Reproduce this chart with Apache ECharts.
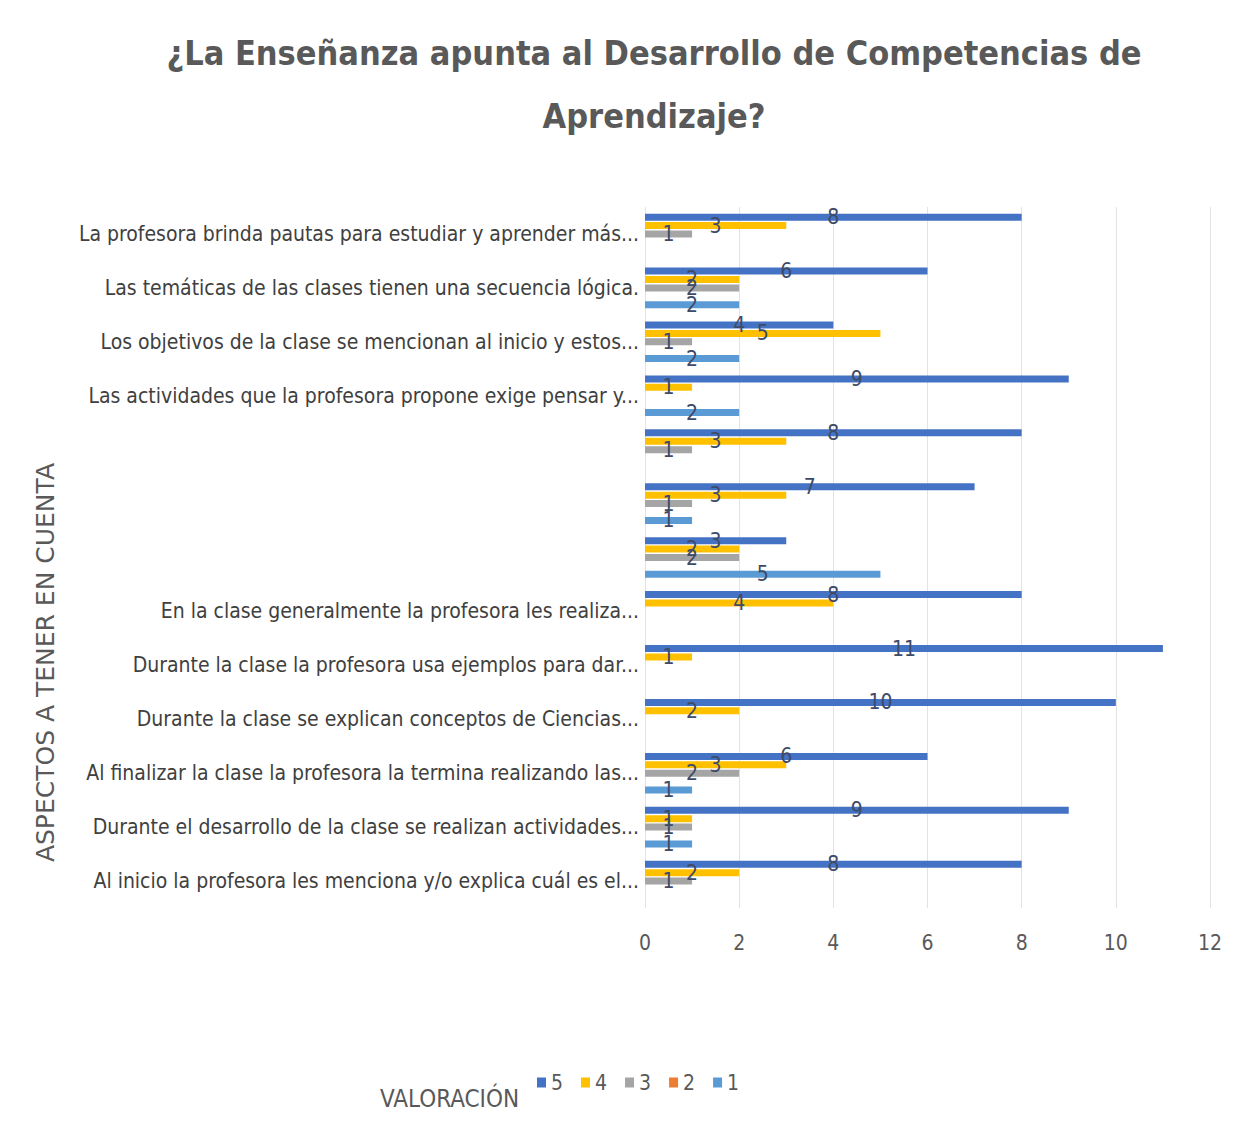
<!DOCTYPE html>
<html>
<head>
<meta charset="utf-8">
<script src="https://cdn.jsdelivr.net/npm/echarts@6/dist/echarts.min.js"></script>
<style>
html,body{margin:0;padding:0;background:#fff;}
#chart{width:1249px;height:1127px;}
</style>
</head>
<body>
<div id="chart"></div>
<script>
// Categories, top to bottom as shown
var categories = [
  "La profesora brinda pautas para estudiar y aprender más...",
  "Las temáticas de las clases tienen una secuencia lógica.",
  "Los objetivos de la clase se mencionan al inicio y estos...",
  "Las actividades que la profesora propone exige pensar y...",
  "",
  "",
  "",
  "En la clase generalmente la profesora les realiza...",
  "Durante la clase la profesora usa ejemplos para dar...",
  "Durante la clase se explican conceptos de Ciencias...",
  "Al finalizar la clase la profesora la termina realizando las...",
  "Durante el desarrollo de la clase se realizan actividades...",
  "Al inicio la profesora les menciona y/o explica cuál es el..."
];
var seriesNames = ["5", "4", "3", "2", "1"];
var v5 = [8, 6, 4, 9, 8, 7, 3, 8, 11, 10, 6, 9, 8];
var v4 = [3, 2, 5, 1, 3, 3, 2, 4, 1, 2, 3, 1, 2];
var v3 = [1, 2, 1, 0, 1, 1, 2, 0, 0, 0, 2, 1, 1];
var v2 = [0, 0, 0, 0, 0, 0, 0, 0, 0, 0, 0, 0, 0];
var v1 = [0, 2, 2, 2, 0, 1, 5, 0, 0, 0, 1, 1, 0];
var xTicks = [0, 2, 4, 6, 8, 10, 12];
var colors = ["#4472C4", "#FFC000", "#A5A5A5", "#ED7D31", "#5B9BD5"];

var narrow = "'DejaVu Sans Condensed', 'Liberation Sans Narrow', sans-serif";
var values = [v5, v4, v3, v2, v1];

var series = seriesNames.map(function (n, i) {
  return {
    name: n,
    type: "bar",
    data: values[i],
    barWidth: 7,
    barGap: "20%",
    itemStyle: { color: colors[i] },
    label: {
      show: true,
      position: "inside",
      color: "#3E4A66",
      fontSize: 21,
      fontFamily: narrow,
      formatter: function (p) { return p.value ? String(p.value) : ""; }
    }
  };
});

var chart = echarts.init(document.getElementById("chart"), null, { renderer: "svg" });
chart.setOption({
  animation: false,
  backgroundColor: "#ffffff",
  color: colors,
  title: [
    {
      text: "¿La Enseñanza apunta al Desarrollo de Competencias de\nAprendizaje?",
      left: 649,
      top: 16,
      textAlign: "center",
      textStyle: {
        fontFamily: narrow,
        fontSize: 34,
        fontWeight: "bold",
        color: "#595959",
        lineHeight: 63
      }
    },
    {
      text: "VALORACIÓN",
      left: 375,
      top: 1082,
      textStyle: { fontFamily: narrow, fontSize: 24, fontWeight: "normal", color: "#595959" }
    }
  ],
  legend: {
    left: 532,
    top: 1067,
    icon: "rect",
    itemWidth: 9,
    itemHeight: 10,
    itemGap: 18,
    textStyle: { fontFamily: narrow, fontSize: 21, color: "#595959" },
    data: seriesNames
  },
  grid: { left: 645, right: 39, top: 207, bottom: 219, containLabel: false },
  xAxis: {
    type: "value",
    min: xTicks[0],
    max: xTicks[xTicks.length - 1],
    interval: 2,
    axisLine: { show: false },
    axisTick: { show: false },
    splitLine: { lineStyle: { color: "#E3E3E3", width: 1 } },
    axisLabel: { fontFamily: narrow, fontSize: 21, color: "#595959", margin: 24 }
  },
  yAxis: {
    type: "category",
    inverse: true,
    data: categories,
    axisLine: { show: false },
    axisTick: { show: false },
    axisLabel: { fontFamily: narrow, fontSize: 21, color: "#404040", margin: 6, interval: 0 }
  },
  graphic: [
    {
      type: "text",
      left: 33,
      top: 463,
      rotation: Math.PI / 2,
      style: {
        text: "ASPECTOS A TENER EN CUENTA",
        font: "25px 'DejaVu Sans', sans-serif",
        fill: "#595959"
      }
    }
  ],
  series: series
});
</script>
</body>
</html>
